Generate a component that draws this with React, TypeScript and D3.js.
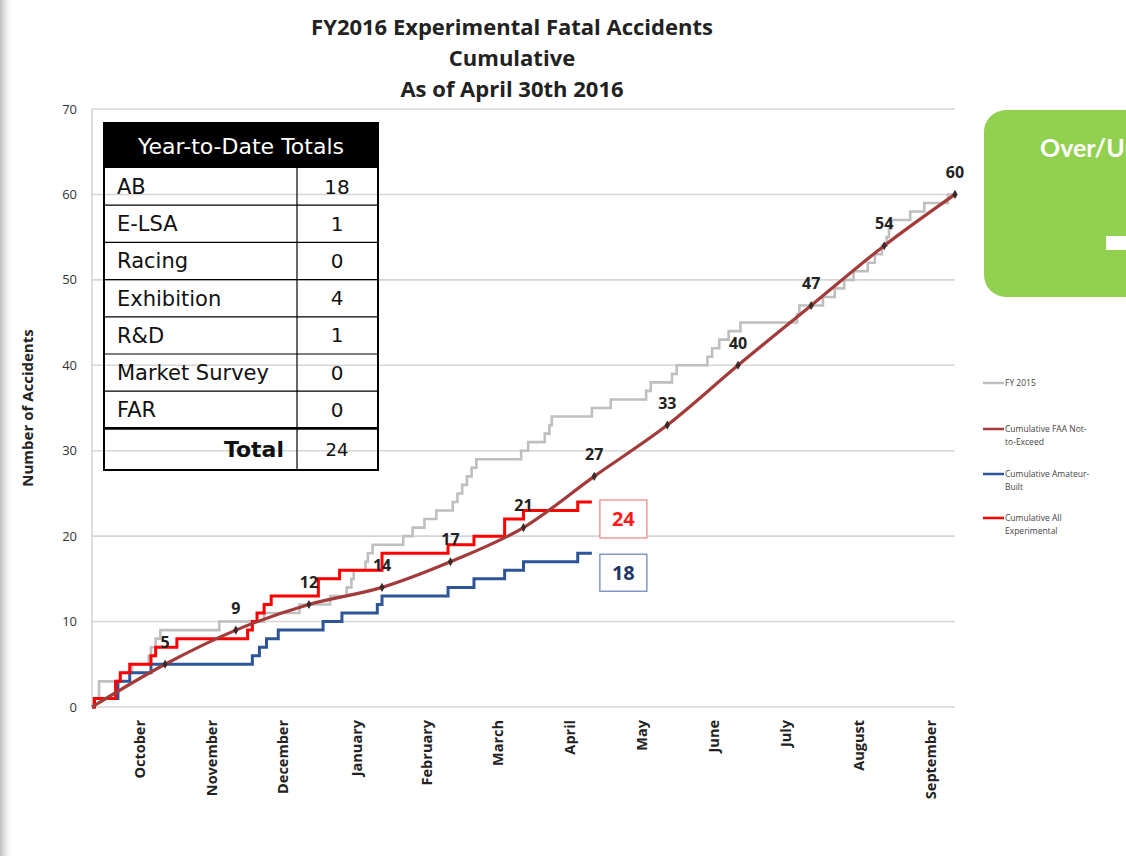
import React from 'react';
import * as d3 from 'd3';

const months = ['October', 'November', 'December', 'January', 'February', 'March', 'April', 'May', 'June', 'July', 'August', 'September'];
const yTicks = [0, 10, 20, 30, 40, 50, 60, 70];

const fy2015Dates = ['2015-10-01', '2015-10-02', '2015-10-04', '2015-10-13', '2015-10-18', '2015-10-25', '2015-10-26', '2015-10-28', '2015-10-30', '2015-11-24', '2015-12-13', '2015-12-28', '2016-01-10', '2016-01-17', '2016-01-19', '2016-01-20', '2016-01-25', '2016-01-26', '2016-01-28', '2016-02-10', '2016-02-14', '2016-02-19', '2016-02-24', '2016-03-02', '2016-03-04', '2016-03-06', '2016-03-08', '2016-03-10', '2016-03-12', '2016-03-31', '2016-04-03', '2016-04-10', '2016-04-12', '2016-04-13', '2016-04-30', '2016-05-08', '2016-05-23', '2016-05-25', '2016-06-03', '2016-06-05', '2016-06-18', '2016-06-20', '2016-06-23', '2016-06-27', '2016-07-02', '2016-07-26', '2016-07-27', '2016-08-06', '2016-08-11', '2016-08-15', '2016-08-19', '2016-08-25', '2016-08-28', '2016-08-31', '2016-09-02', '2016-09-03', '2016-09-04', '2016-09-12', '2016-09-18', '2016-09-28', '2016-09-30'];
const fy2015Values = [0, 1, 3, 4, 5, 6, 7, 8, 9, 10, 11, 12, 13, 14, 15, 16, 17, 18, 19, 20, 21, 22, 23, 24, 25, 26, 27, 28, 29, 30, 31, 32, 33, 34, 35, 36, 37, 38, 39, 40, 41, 42, 43, 44, 45, 46, 47, 48, 49, 50, 51, 52, 53, 54, 55, 56, 57, 58, 59, 60, 60];

const faaMonthEnds = ['2015-09-30', '2015-10-31', '2015-11-30', '2015-12-31', '2016-01-31', '2016-02-29', '2016-03-31', '2016-04-30', '2016-05-31', '2016-06-30', '2016-07-31', '2016-08-31', '2016-09-30'];
const faaValues = [0, 5, 9, 12, 14, 17, 21, 27, 33, 40, 47, 54, 60];

const abDates = ['2015-10-01', '2015-10-02', '2015-10-12', '2015-10-17', '2015-10-26', '2015-12-08', '2015-12-11', '2015-12-14', '2015-12-19', '2016-01-07', '2016-01-15', '2016-01-30', '2016-02-01', '2016-02-29', '2016-03-11', '2016-03-24', '2016-04-01', '2016-04-24', '2016-04-30'];
const abValues = [0, 1, 3, 4, 5, 6, 7, 8, 9, 10, 11, 12, 13, 14, 15, 16, 17, 18, 18];

const allDates = ['2015-10-01', '2015-10-02', '2015-10-11', '2015-10-13', '2015-10-17', '2015-10-26', '2015-10-28', '2015-11-06', '2015-12-06', '2015-12-08', '2015-12-10', '2015-12-13', '2015-12-16', '2016-01-05', '2016-01-14', '2016-02-01', '2016-02-29', '2016-03-11', '2016-03-24', '2016-04-01', '2016-04-24', '2016-04-30'];
const allValues = [0, 1, 3, 4, 5, 6, 7, 8, 9, 10, 11, 12, 13, 15, 16, 18, 19, 20, 22, 23, 24, 24];

const tableLabels = ['AB', 'E-LSA', 'Racing', 'Exhibition', 'R&D', 'Market Survey', 'FAR'];
const tableValues = [18, 1, 0, 4, 1, 0, 0];
const tableTotal = 24;

const legendLabels = [['FY 2015'], ['Cumulative FAA Not-', 'to-Exceed'], ['Cumulative Amateur-', 'Built'], ['Cumulative All', 'Experimental']];
const legendColors = ['#bfbfbf', '#a33b3b', '#2e5597', '#ff0000'];

const parse = d3.timeParse('%Y-%m-%d');

export default function App() {
  const x = d3.scaleTime().domain([new Date(2015, 9, 1), new Date(2016, 9, 1)]).range([92, 955]);
  const y = d3.scaleLinear().domain([0, 70]).range([707, 109]);
  const endOfDay = (s: string) => d3.timeDay.offset(parse(s) as Date, 1);

  const step = d3.line<[Date, number]>().x(d => x(d[0])).y(d => y(d[1])).curve(d3.curveStepAfter);
  const series = (dates: string[], vals: number[]) => dates.map((d, i) => [parse(d) as Date, vals[i]] as [Date, number]);
  const faaPts = faaMonthEnds.map((d, i) => [endOfDay(d), faaValues[i]] as [Date, number]);
  faaPts[0] = [new Date(2015, 9, 1), 0];
  const smooth = d3.line<[Date, number]>().x(d => x(d[0])).y(d => y(d[1])).curve(d3.curveMonotoneX);

  const monthStarts = d3.timeMonth.range(new Date(2015, 9, 1), new Date(2016, 9, 1));

  const tRowTop = 168;
  const tRowH = 37.2;
  const tLeft = 104, tRight = 378, tDiv = 297;
  const tTotalTop = tRowTop + tRowH * tableLabels.length;

  const allEnd = series(allDates, allValues).slice(-1)[0];
  const abEnd = series(abDates, abValues).slice(-1)[0];

  const diamond = d3.symbol().type(d3.symbolDiamond).size(24)();
  const legendY = [383, 429, 474, 518];

  return (
    <svg width={1126} height={856} style={{ position: 'absolute', left: 0, top: 0 }} fontFamily="'Open Sans', sans-serif">
      <defs>
        <linearGradient id="shadowL" x1="0" x2="1" y1="0" y2="0">
          <stop offset="0" stopColor="#bdbdbd" />
          <stop offset="1" stopColor="#ffffff" stopOpacity="0" />
        </linearGradient>
      </defs>
      <rect x={0} y={0} width={1126} height={856} fill="#fff" />
      <rect x={0} y={0} width={14} height={856} fill="url(#shadowL)" />

      {/* title */}
      <g fontWeight={700} fontSize={22} fill="#222" textAnchor="middle">
        <text x={512} y={35}>FY2016 Experimental Fatal Accidents</text>
        <text x={512} y={66}>Cumulative</text>
        <text x={512} y={97}>As of April 30th 2016</text>
      </g>

      {/* gridlines */}
      {yTicks.map(t => (
        <line key={t} x1={92} x2={955} y1={y(t)} y2={y(t)} stroke="#d6d6d6" strokeWidth={1.6} />
      ))}
      <line x1={92} x2={92} y1={y(0)} y2={y(70)} stroke="#d6d6d6" strokeWidth={1.6} />
      {yTicks.map(t => (
        <text key={t} x={77} y={y(t)} dy="0.35em" textAnchor="end" fontSize={13} fill="#333">{t}</text>
      ))}
      <text transform="translate(33,408) rotate(-90)" textAnchor="middle" fontSize={15} fontWeight={700} fill="#222">Number of Accidents</text>

      {monthStarts.map((m, i) => {
        const xm = x(m) + (x(d3.timeMonth.offset(m, 1)) - x(m)) / 2 + 11;
        return (
          <text key={i} transform={`translate(${xm},720) rotate(-90)`} textAnchor="end" dy="0.35em" fontSize={14.5} fontWeight={700} fill="#222">{months[i]}</text>
        );
      })}

      {/* lines */}
      <path d={step(series(fy2015Dates, fy2015Values)) || ''} fill="none" stroke="#bfbfbf" strokeWidth={2.6} />
      <path d={step(series(abDates, abValues)) || ''} fill="none" stroke="#2e5597" strokeWidth={3} />
      <path d={step(series(allDates, allValues)) || ''} fill="none" stroke="#ff0000" strokeWidth={3} />
      <path d={smooth(faaPts) || ''} fill="none" stroke="#a33b3b" strokeWidth={3.2} />
      {faaPts.slice(1).map((p, i) => (
        <g key={i}>
          <path d={diamond || ''} transform={`translate(${x(p[0])},${y(p[1])})`} fill="#3a2a2a" />
          <text x={x(p[0])} y={y(p[1]) - 22} dy="0.35em" textAnchor="middle" fontSize={16} fontWeight={700} fill="#222">{p[1]}</text>
        </g>
      ))}

      {/* end boxes */}
      <rect x={x(allEnd[0]) + 8} y={y(allEnd[1]) - 2} width={47} height={38} fill="#fff" stroke="#f08a8a" strokeWidth={1.3} />
      <text x={x(allEnd[0]) + 31.5} y={y(allEnd[1]) + 17} dy="0.36em" textAnchor="middle" fontSize={20} fontWeight={700} fill="#ff1a1a">{allEnd[1]}</text>
      <rect x={x(abEnd[0]) + 8} y={y(abEnd[1]) + 1} width={47} height={37} fill="#fff" stroke="#6f88c0" strokeWidth={1.3} />
      <text x={x(abEnd[0]) + 31.5} y={y(abEnd[1]) + 19.5} dy="0.36em" textAnchor="middle" fontSize={20} fontWeight={700} fill="#1f3668">{abEnd[1]}</text>

      {/* table */}
      <g fontFamily="'DejaVu Sans', sans-serif" fill="#111">
        <rect x={tLeft} y={123} width={tRight - tLeft} height={tRowTop - 123} fill="#000" />
        <text x={(tLeft + tRight) / 2} y={146} dy="0.35em" textAnchor="middle" fontSize={22} fill="#fff">Year-to-Date Totals</text>
        <rect x={tLeft} y={123} width={tRight - tLeft} height={470 - 123} fill="none" stroke="#000" strokeWidth={2} />
        {tableLabels.map((l, i) => (
          <g key={l}>
            {i > 0 && <line x1={tLeft} x2={tRight} y1={tRowTop + tRowH * i} y2={tRowTop + tRowH * i} stroke="#000" strokeWidth={1.2} />}
            <text x={117} y={tRowTop + tRowH * i + tRowH / 2} dy="0.35em" fontSize={21}>{l}</text>
            <text x={337} y={tRowTop + tRowH * i + tRowH / 2} dy="0.35em" textAnchor="middle" fontSize={20}>{tableValues[i]}</text>
          </g>
        ))}
        <line x1={tDiv} x2={tDiv} y1={tRowTop} y2={470} stroke="#000" strokeWidth={1.2} />
        <line x1={tLeft} x2={tRight} y1={tTotalTop} y2={tTotalTop} stroke="#000" strokeWidth={2.6} />
        <text x={284} y={(tTotalTop + 470) / 2} dy="0.35em" textAnchor="end" fontSize={22} fontWeight={700}>Total</text>
        <text x={337} y={(tTotalTop + 470) / 2} dy="0.35em" textAnchor="middle" fontSize={18}>{tableTotal}</text>
      </g>

      {/* legend */}
      {legendLabels.map((lines, i) => (
        <g key={i}>
          <line x1={983} x2={1004} y1={legendY[i]} y2={legendY[i]} stroke={legendColors[i]} strokeWidth={2.5} />
          {lines.map((t, j) => (
            <text key={j} x={1005} y={legendY[i] + j * 13.5} dy="0.35em" fontSize={8.5} fill="#444">{t}</text>
          ))}
        </g>
      ))}

      {/* over/under box */}
      <rect x={984} y={110} width={200} height={187} rx={22} fill="#92d050" />
      <text x={1040} y={157} fontSize={25} fontWeight={700} fill="#fff" fontFamily="Lato, sans-serif">Over/Under</text>
      <rect x={1106} y={236} width={30} height={14} fill="#fff" />
    </svg>
  );
}
